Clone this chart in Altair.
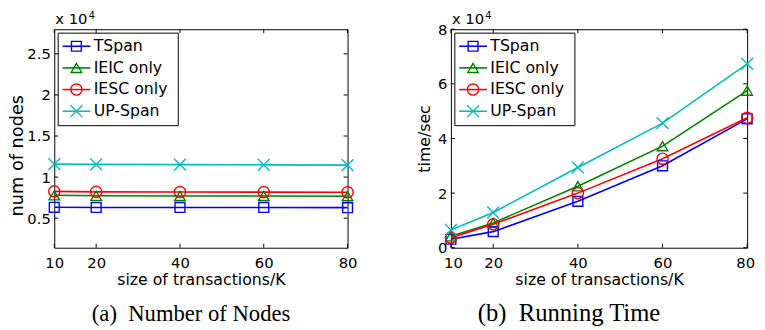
import altair as alt
import pandas as pd

# ---------------- data ----------------
sizes = [10, 20, 40, 60, 80]
series = ["TSpan", "IEIC only", "IESC only", "UP-Span"]
colors = ["#0000FF", "#008000", "#FF0000", "#00BFBF"]

# (a) number of nodes, in units of 10^4
nodes_tspan = [0.632, 0.630, 0.630, 0.630, 0.628]
nodes_ieic = [0.778, 0.772, 0.770, 0.770, 0.767]
nodes_iesc = [0.826, 0.820, 0.818, 0.817, 0.815]
nodes_upspan = [1.158, 1.155, 1.152, 1.149, 1.146]

# (b) running time, in units of 10^4 sec
time_tspan = [0.31, 0.59, 1.70, 3.00, 4.72]
time_ieic = [0.42, 0.91, 2.25, 3.72, 5.75]
time_iesc = [0.37, 0.86, 2.00, 3.26, 4.76]
time_upspan = [0.65, 1.29, 2.94, 4.56, 6.73]

x_ticks = [10, 20, 40, 60, 80]
nodes_ticks = [0.5, 1, 1.5, 2, 2.5]
time_ticks = [0, 2, 4, 6, 8]

FONT = "DejaVu Sans"
SERIF = "Liberation Serif"
H = 222


def long_df(vals_list):
    rows = []
    for s, vals in zip(series, vals_list):
        for x, v in zip(sizes, vals):
            rows.append({"series": s, "x": x, "y": v})
    return pd.DataFrame(rows)


shape_range = ["square", "triangle-up", "circle", "M-1,-1L1,1M-1,1L1,-1"]
size_range = [100, 144, 121, 64]

color_enc = alt.Color("series:N", scale=alt.Scale(domain=series, range=colors), legend=None)
shape_enc = alt.Shape("series:N", scale=alt.Scale(domain=series, range=shape_range), legend=None)
size_enc = alt.Size("series:N", scale=alt.Scale(domain=series, range=size_range), legend=None)


def panel(df, ydomain, yticks, ytitle, title_x, title_y, title_size, W,
          caption, cap_x, cap_size, flush):
    xs = alt.Scale(domain=[10, 80], nice=False, zero=False)
    ys = alt.Scale(domain=ydomain, nice=False, zero=False)
    xaxis = alt.Axis(values=x_ticks, title="size of transactions/K", ticks=False, tickSize=0,
                     domain=False, grid=False, labelPadding=8, titleY=37,
                     titleBaseline="alphabetic", labelFlush=flush,
                     labelFlushOffset=7.5 if flush else 0)
    yaxis = alt.Axis(values=yticks, title=ytitle, format="~g", ticks=False, tickSize=0,
                     domain=False, grid=False, labelPadding=4, titleX=title_x,
                     titleY=title_y, titleFontSize=title_size,
                     titleBaseline="alphabetic")
    X = alt.X("x:Q", scale=xs, axis=xaxis)
    Y = alt.Y("y:Q", scale=ys, axis=yaxis)

    base = alt.Chart(df)
    lines = base.mark_line(strokeWidth=1.6).encode(x=X, y=Y, color=color_enc)
    pts = base.mark_point(filled=False, strokeWidth=1.4, opacity=1).encode(
        x=X, y=Y, color=color_enc, shape=shape_enc, size=size_enc)

    ytdf = pd.DataFrame({"y": yticks})
    xtdf = pd.DataFrame({"x": x_ticks})
    yt_l = alt.Chart(ytdf).mark_rule(color="black", strokeWidth=1).encode(
        y=Y, x=alt.value(0), x2=alt.value(4))
    yt_r = alt.Chart(ytdf).mark_rule(color="black", strokeWidth=1).encode(
        y=Y, x=alt.value(W - 4), x2=alt.value(W))
    xt_b = alt.Chart(xtdf).mark_rule(color="black", strokeWidth=1).encode(
        x=X, y=alt.value(H - 4), y2=alt.value(H))
    xt_t = alt.Chart(xtdf).mark_rule(color="black", strokeWidth=1).encode(
        x=X, y=alt.value(0), y2=alt.value(4))
    main = alt.layer(lines, pts, yt_l, yt_r, xt_b, xt_t)

    # legend: one row per series, placed by a linear row scale
    ldf = pd.DataFrame({"series": series, "row": list(range(len(series)))})
    LY = alt.Y("row:Q",
               scale=alt.Scale(domain=[0, len(series) - 1], range=[17.3, 83.3],
                               nice=False, zero=False),
               axis=None)
    box = alt.Chart(pd.DataFrame({"k": [0]})).mark_rect(
        fill="white", stroke="black", strokeWidth=1).encode(
        x=alt.value(4), x2=alt.value(126), y=alt.value(4), y2=alt.value(98))
    ll = alt.Chart(ldf).mark_rule(strokeWidth=1.6).encode(
        x=alt.value(8.4), x2=alt.value(36.7), y=LY, color=color_enc)
    lp = alt.Chart(ldf).mark_point(filled=False, strokeWidth=1.4, opacity=1).encode(
        x=alt.value(22.5), y=LY, color=color_enc, shape=shape_enc, size=size_enc)
    lt = alt.Chart(ldf).mark_text(align="left", baseline="middle", font=FONT,
                                  fontSize=16, color="black").encode(
        x=alt.value(40), y=LY, text="series:N")
    legend = alt.layer(box, ll, lp, lt)

    ann = alt.Chart(pd.DataFrame({"t": ["x 10"]})).mark_text(
        align="left", baseline="alphabetic", font=FONT, fontSize=15, color="black").encode(
        x=alt.value(1), y=alt.value(-5.3), text="t:N")
    sup = alt.Chart(pd.DataFrame({"t": ["4"]})).mark_text(
        align="left", baseline="alphabetic", font=FONT, fontSize=10, color="black").encode(
        x=alt.value(35), y=alt.value(-10), text="t:N")
    cap = alt.Chart(pd.DataFrame({"t": [caption]})).mark_text(
        align="center", baseline="alphabetic", font=SERIF, fontSize=cap_size,
        color="black").encode(
        x=alt.value(cap_x), y=alt.value(296), text="t:N")

    return alt.layer(main, legend, ann, sup, cap).resolve_scale(y="independent").properties(
        width=W, height=H)


p1 = panel(long_df([nodes_tspan, nodes_ieic, nodes_iesc, nodes_upspan]),
           [0.14, 2.8], nodes_ticks, "num of nodes", -32, 128, 18, 298,
           "(a)\u00a0\u00a0Number of Nodes", 139, 23, False)
p2 = panel(long_df([time_tspan, time_ieic, time_iesc, time_upspan]),
           [0, 8], time_ticks, "time/sec", -22, 111, 16, 301,
           "(b)\u00a0\u00a0Running Time", 120, 25, True)

chart = alt.hconcat(p1, p2, spacing=105, bounds="flush").properties(
    padding={"left": 0, "top": 0, "right": 0, "bottom": 0}
).configure_view(stroke="black", strokeWidth=1).configure_axis(
    labelFont=FONT, labelFontSize=15, labelColor="black",
    titleFont=FONT, titleFontSize=16, titleFontWeight="normal", titleColor="black")

chart.save("out.html", embed_options={"renderer": "svg", "actions": False})
